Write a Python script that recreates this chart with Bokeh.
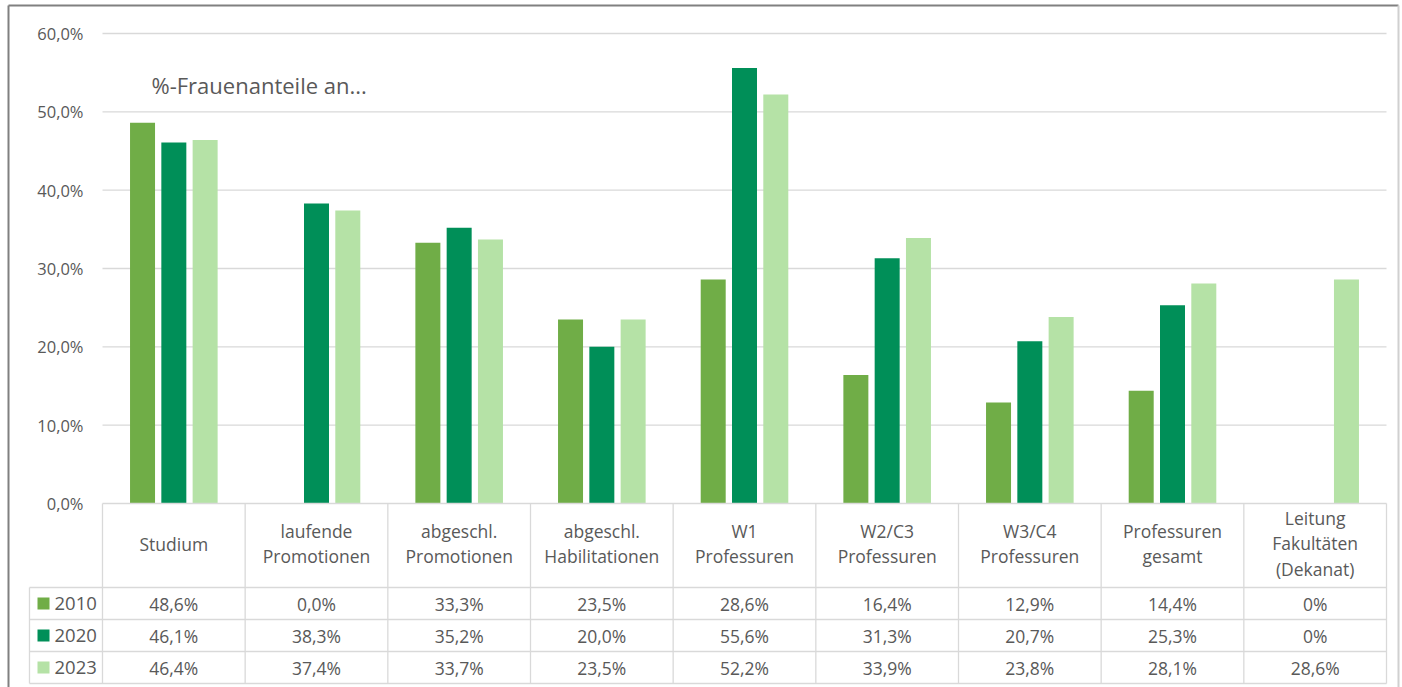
from bokeh.plotting import figure
from bokeh.models import Range1d, ColumnDataSource
from bokeh.core.properties import value
from bokeh.embed import file_html
from bokeh.resources import INLINE

# ---------------- data ----------------
categories = ["Studium", "laufende\nPromotionen", "abgeschl.\nPromotionen",
              "abgeschl.\nHabilitationen", "W1\nProfessuren", "W2/C3\nProfessuren",
              "W3/C4\nProfessuren", "Professuren\ngesamt", "Leitung\nFakultäten\n(Dekanat)"]
years = ["2010", "2020", "2023"]
v2010 = [48.6, 0.0, 33.3, 23.5, 28.6, 16.4, 12.9, 14.4, 0.0]
v2020 = [46.1, 38.3, 35.2, 20.0, 55.6, 31.3, 20.7, 25.3, 0.0]
v2023 = [46.4, 37.4, 33.7, 23.5, 52.2, 33.9, 23.8, 28.1, 28.6]
lab2010 = ["48,6%", "0,0%", "33,3%", "23,5%", "28,6%", "16,4%", "12,9%", "14,4%", "0%"]
lab2020 = ["46,1%", "38,3%", "35,2%", "20,0%", "55,6%", "31,3%", "20,7%", "25,3%", "0%"]
lab2023 = ["46,4%", "37,4%", "33,7%", "23,5%", "52,2%", "33,9%", "23,8%", "28,1%", "28,6%"]
y_ticks = [0, 10, 20, 30, 40, 50, 60]
y_tick_labels = ["0,0%", "10,0%", "20,0%", "30,0%", "40,0%", "50,0%", "60,0%"]
title_note = "%-Frauenanteile an..."
colors = ["#70AD47", "#008F58", "#B5E2A6"]

# ---------------- layout (pixel geometry -> data units) ----------------
WIDTH, HEIGHT = 1402, 687
X0_PX, X1_PX = 102, 1386            # table / plot area left & right
Y0_PX, Y60_PX = 503, 33             # 0 % and 60 % pixel rows
n = len(categories)
PXU = (X1_PX - X0_PX) / n           # pixels per category
PYU = (Y0_PX - Y60_PX) / 60.0       # pixels per percent


def xu(px):
    return (px - X0_PX) / PXU


def yu(py):
    return (Y0_PX - py) / PYU


p = figure(width=WIDTH, height=HEIGHT, output_backend="svg", toolbar_location=None,
           x_range=Range1d(xu(0), xu(WIDTH)), y_range=Range1d(yu(HEIGHT), yu(0)),
           min_border=0, outline_line_color=None, background_fill_color="white",
           border_fill_color="white")
p.axis.visible = False
p.grid.visible = False

FONT = value("Open Sans")
TXT = "#595959"
GRID = "#D9D9D9"

# gridlines
p.segment(x0=[0] * len(y_ticks[1:]), x1=[n] * len(y_ticks[1:]), y0=y_ticks[1:], y1=y_ticks[1:],
          line_color=GRID, line_width=1.3)

# y tick labels
p.text(x=[xu(83)] * len(y_ticks), y=y_ticks, text=y_tick_labels, text_font=FONT,
       text_font_size="16.5px", text_color=TXT, text_align="right", text_baseline="middle")

# bars
centers = [i + 0.5 for i in range(n)]
bw = 25 / PXU
off = 31.3 / PXU
for k, (vals, col) in enumerate(zip([v2010, v2020, v2023], colors)):
    src = ColumnDataSource(dict(x=[c + (k - 1) * off for c in centers], top=vals))
    p.vbar(x="x", top="top", bottom=0, width=bw, source=src, fill_color=col, line_color=None)

# note text
p.text(x=[xu(151)], y=[yu(84)], text=[title_note], text_font=FONT, text_font_size="22px",
       text_color=TXT, text_align="left", text_baseline="middle")

# ---------------- data table ----------------
row_px = [587, 619, 651, 683]
row_y = [yu(v) for v in row_px]
head_bottom = row_y[0]
leg_left = xu(29)
# horizontal lines
p.segment(x0=[0], x1=[n], y0=[0], y1=[0], line_color=GRID, line_width=1.3)
p.segment(x0=[leg_left] * 4, x1=[n] * 4, y0=row_y, y1=row_y, line_color=GRID, line_width=1.3)
# vertical lines
vx = list(range(n + 1))
p.segment(x0=vx, x1=vx, y0=[0] * len(vx), y1=[row_y[-1]] * len(vx), line_color=GRID, line_width=1.3)
p.segment(x0=[leg_left], x1=[leg_left], y0=[head_bottom], y1=[row_y[-1]], line_color=GRID, line_width=1.3)

# header texts
p.text(x=centers, y=[yu(543)] * n, text=categories, text_font=FONT, text_font_size="17.5px",
       text_color=TXT, text_align="center", text_baseline="middle", text_line_height=1.05)

# row values
for r, labs in enumerate([lab2010, lab2020, lab2023]):
    yc = (row_y[r] + row_y[r + 1]) / 2
    p.text(x=centers, y=[yc] * n, text=labs, text_font=FONT, text_font_size="17.5px",
           text_color=TXT, text_align="center", text_baseline="middle")
    # legend key + year
    p.rect(x=[xu(43)], y=[yc], width=12 / PXU, height=12 / PYU, fill_color=colors[r], line_color=None)
    p.text(x=[xu(54)], y=[yc], text=[years[r]], text_font=FONT, text_font_size="18.5px",
           text_color=TXT, text_align="left", text_baseline="middle")

# outer chart border
p.segment(x0=[xu(8), xu(8)], x1=[xu(1398), xu(8)], y0=[yu(5), yu(5)], y1=[yu(5), yu(687)],
          line_color="#808080", line_width=2)
p.segment(x0=[xu(1398)], x1=[xu(1398)], y0=[yu(5)], y1=[yu(687)], line_color="#D0D0D0", line_width=2)

open("out.html", "w").write(file_html(p, INLINE))
